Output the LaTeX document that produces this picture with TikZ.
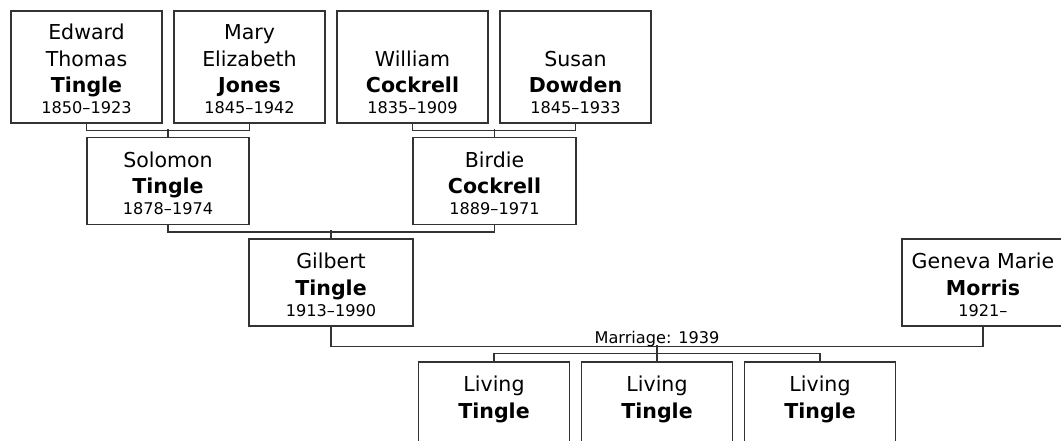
\documentclass[tikz,border=0pt]{standalone}
\usepackage{fontspec}
\setmainfont{DejaVu Sans}
\usetikzlibrary{positioning,calc}
\definecolor{boxline}{RGB}{51,51,51}
\newcommand{\yrsfont}{\fontsize{12.1}{14}\selectfont}
\newcommand{\yrs}[1]{{\yrsfont #1}}
\newcommand{\surname}[1]{\textbf{#1}}
\newcommand{\toppad}{\rule{0pt}{15pt}}

\begin{document}
\begin{tikzpicture}[x=0.75pt, y=-0.75pt,
  person/.style={draw=boxline, line width=0.9pt, fill=white, inner sep=0pt, align=center,
    font=\fontsize{15.4}{19.8}\selectfont, minimum width=113.25pt, minimum height=84pt},
  child/.style={person, minimum height=65.25pt},
  link/.style={draw=boxline, line width=0.9pt}]
  \clip (0,0) rectangle (1061,441);
  % grandparents
  \node[person] (edward) at (86.5,67) {\toppad Edward\\Thomas\\\surname{Tingle}\\[-4pt]\yrs{1850--1923}};
  \node[person] (mary) at (249.5,67) {\toppad Mary\\Elizabeth\\\surname{Jones}\\[-4pt]\yrs{1845--1942}};
  \node[person] (william) at (412.5,67) {\toppad\\William\\\surname{Cockrell}\\[-4pt]\yrs{1835--1909}};
  \node[person] (susan) at (575.5,67) {\toppad\\Susan\\\surname{Dowden}\\[-4pt]\yrs{1845--1933}};
  % parents
  \node[child, minimum width=121.5pt] (solomon) at (168,181) {\toppad Solomon\\\surname{Tingle}\\[-4pt]\yrs{1878--1974}};
  \node[child, minimum width=122.25pt] (birdie) at (494.5,181) {\toppad Birdie\\\surname{Cockrell}\\[-4pt]\yrs{1889--1971}};
  % couple
  \node[child, minimum width=123pt] (gilbert) at (331,282.5) {\toppad Gilbert\\\surname{Tingle}\\[-4pt]\yrs{1913--1990}};
  \node[child, minimum width=121.5pt] (geneva) at (983,282.5) {\toppad Geneva Marie\\\surname{Morris}\\[-4pt]\yrs{1921--}};
  % children
  \node[child] (kid1) at (494,405.5) {\toppad Living\\\surname{Tingle}\\[-4pt]\yrs{\vphantom{1}}};
  \node[child] (kid2) at (657,405.5) {\toppad Living\\\surname{Tingle}\\[-4pt]\yrs{\vphantom{1}}};
  \node[child] (kid3) at (820,405.5) {\toppad Living\\\surname{Tingle}\\[-4pt]\yrs{\vphantom{1}}};

  \draw[link] (edward.south) -- ++(0,7) -| (mary.south);
  \draw[link] (solomon.north) -- ++(0,-8);
  \draw[link] (william.south) -- ++(0,7) -| (susan.south);
  \draw[link] (birdie.north) -- ++(0,-8);
  \draw[link] (solomon.south) -- ++(0,7) -| (birdie.south);
  \draw[link] (gilbert.north) -- ++(0,-8);
  \draw[link] (gilbert.south) -- ++(0,20) -| (geneva.south);
  \node[font=\yrsfont, anchor=base] (marr) at (657,344) {Marriage: 1939};
  \draw[link] (kid1.north) -- ++(0,-8) -| (kid3.north);
  \draw[link] (kid2.north) -- ++(0,-16);
\end{tikzpicture}
\end{document}
